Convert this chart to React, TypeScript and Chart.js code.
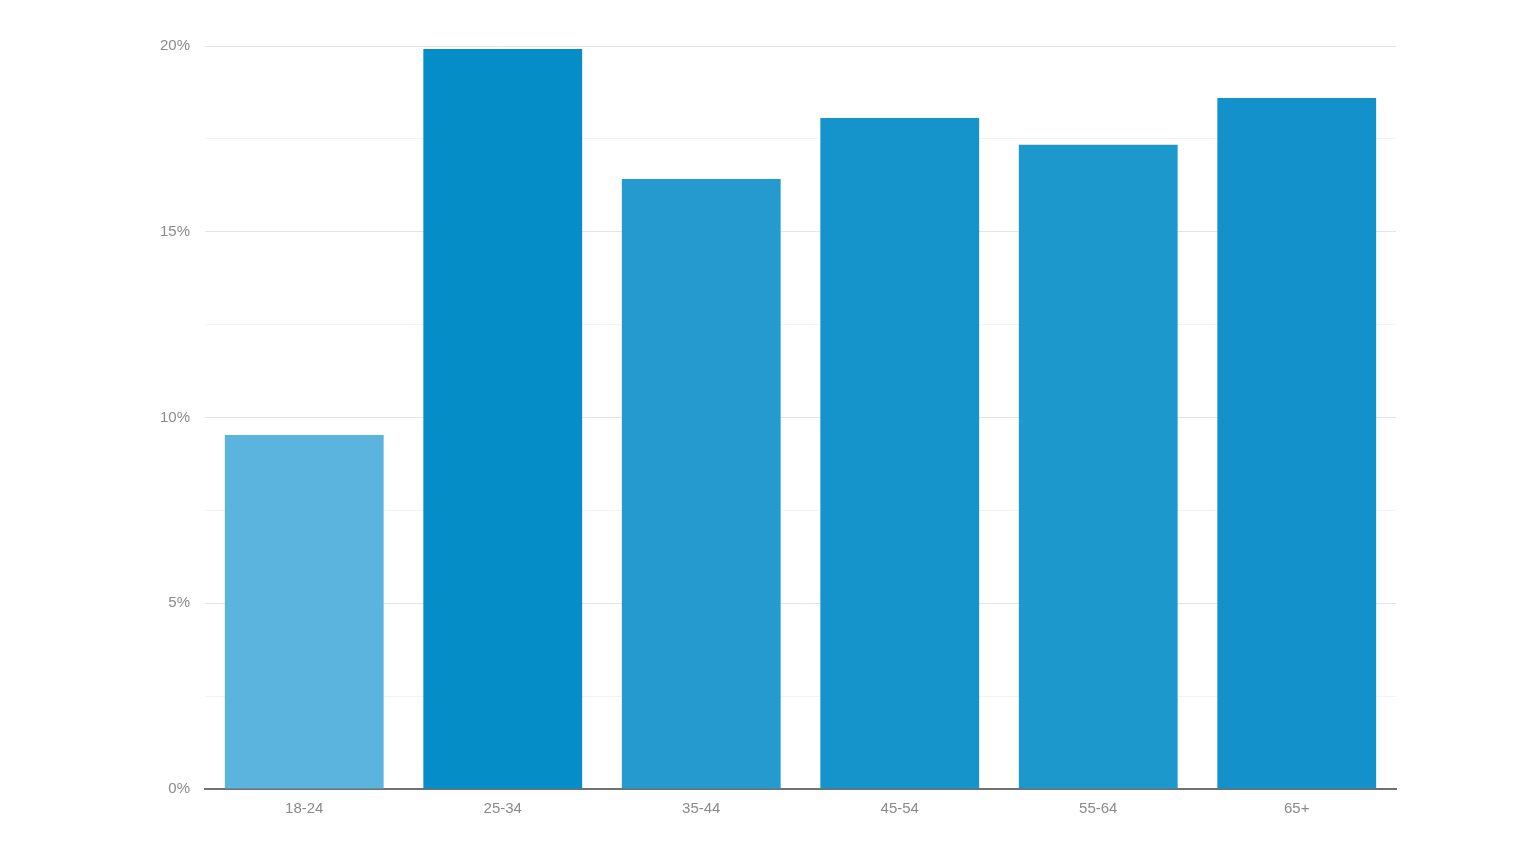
import React, { useEffect, useRef } from "react";
import { Chart, registerables } from "chart.js";

Chart.register(...registerables);

const categories = ["18-24", "25-34", "35-44", "45-54", "55-64", "65+"];
const values = [9.53, 19.92, 16.42, 18.06, 17.34, 18.6];
const barColors = ["#5BB4DD", "#058DC7", "#249ACE", "#1594CB", "#1D98CD", "#1291CA"];
const yMax = 20;
const yStep = 2.5;

export default function App() {
  const ref = useRef<HTMLCanvasElement | null>(null);
  useEffect(() => {
    if (!ref.current) return;
    const chart = new Chart(ref.current, {
      type: "bar",
      data: {
        labels: categories,
        datasets: [
          {
            data: values,
            backgroundColor: barColors,
            borderWidth: 0,
            barPercentage: 0.8,
            categoryPercentage: 1,
          },
        ],
      },
      options: {
        animation: false,
        responsive: false,
        maintainAspectRatio: false,
        layout: { padding: { left: 0, right: 140, top: 46, bottom: 0 } },
        plugins: { legend: { display: false }, tooltip: { enabled: false } },
        scales: {
          x: {
            grid: { display: false, drawTicks: false },
            border: { display: true, color: "#717171", width: 2 },
            ticks: {
              color: "#8a8a8a",
              padding: 11,
              font: { family: "Liberation Sans, Arial, sans-serif", size: 15 },
            },
            afterFit: (s: any) => {
              s.height = 75;
            },
          },
          y: {
            min: 0,
            max: yMax,
            border: { display: false },
            grid: {
              drawTicks: false,
              color: (ctx: any) =>
                ctx.tick && ctx.tick.value % 5 === 0 ? "#e4e4e4" : "#f3f3f3",
              lineWidth: 1,
            },
            ticks: {
              stepSize: yStep,
              padding: 15,
              color: "#8a8a8a",
              font: { family: "Liberation Sans, Arial, sans-serif", size: 15 },
              callback: (v: any) => (Number(v) % 5 === 0 ? v + "%" : ""),
            },
            afterFit: (s: any) => {
              s.width = 205;
            },
          },
        },
      },
    });
    return () => chart.destroy();
  }, []);
  return (
    <div style={{ position: "fixed", left: 0, top: 0, width: 1536, height: 864, background: "#fff" }}>
      <canvas ref={ref} width={1536} height={864} style={{ width: 1536, height: 864 }} />
    </div>
  );
}
